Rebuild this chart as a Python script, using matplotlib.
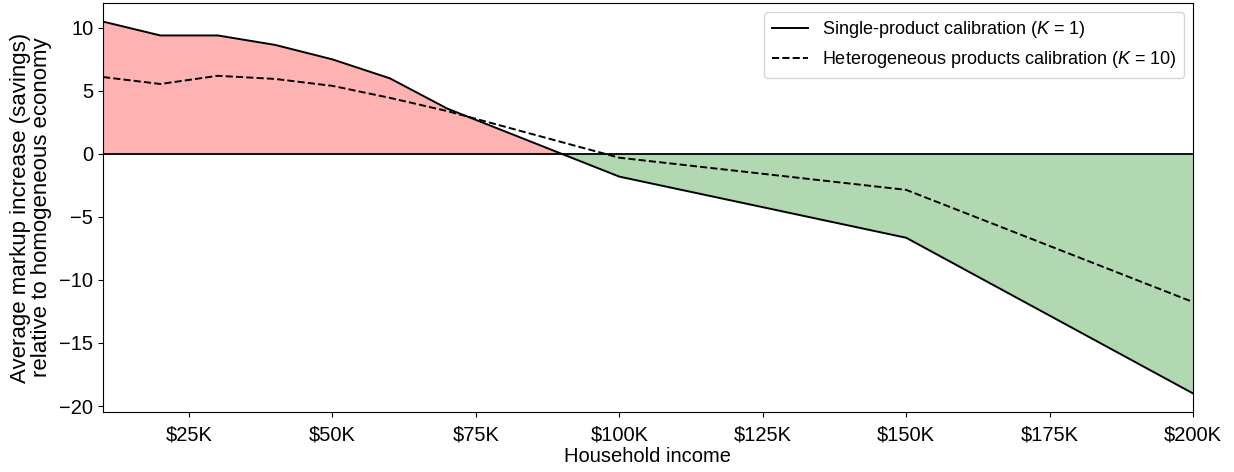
import matplotlib
matplotlib.use("Agg")
import matplotlib.pyplot as plt
import numpy as np

plt.rcParams['font.family'] = ['Liberation Sans', 'DejaVu Sans']
plt.rcParams['mathtext.fontset'] = 'custom'
plt.rcParams['mathtext.it'] = 'Liberation Sans:italic'
plt.rcParams['mathtext.rm'] = 'Liberation Sans'

income = [10, 20, 30, 40, 50, 60, 70, 100, 150, 200]
single = [10.5, 9.4, 9.4, 8.65, 7.5, 6.0, 3.6, -1.8, -6.65, -19.0]
hetero = [6.1, 5.55, 6.2, 5.95, 5.4, 4.45, 3.4, -0.3, -2.85, -11.75]
tick_vals = [25, 50, 75, 100, 125, 150, 175, 200]
tick_labels = ['$25K', '$50K', '$75K', '$100K', '$125K', '$150K', '$175K', '$200K']

x = np.array(income, dtype=float)
y = np.array(single)

fig = plt.figure(figsize=(12.34, 4.72), dpi=100)
ax = fig.add_axes([103 / 1234, 1 - 412 / 472, (1193 - 103) / 1234, (412 - 3) / 472])

ax.fill_between(x, y, 0, where=y >= 0, interpolate=True, color='red', alpha=0.3, linewidth=0)
ax.fill_between(x, y, 0, where=y <= 0, interpolate=True, color='green', alpha=0.3, linewidth=0)
ax.axhline(0, color='black', linewidth=1.3)
ax.plot(x, y, color='black', linestyle='-', linewidth=1.4, label=r'Single-product calibration ($K$ = 1)')
ax.plot(x, hetero, color='black', linestyle='--', linewidth=1.4, label=r'Heterogeneous products calibration ($K$ = 10)')

ax.set_xlim(10, 200)
ax.set_xticks(tick_vals)
ax.set_xticklabels(tick_labels)
ax.set_yticks([10, 5, 0, -5, -10, -15, -20])
ax.tick_params(labelsize=14.5)
ax.tick_params(axis='x', pad=6)
ax.set_xlabel('Household income', fontsize=14.5, labelpad=2)
ax.set_ylabel('Average markup increase (savings)\nrelative to homogeneous economy',
              fontsize=16, linespacing=1.0, labelpad=5)
ax.legend(loc='upper right', fontsize=13)

fig.savefig('out.png', dpi=100)
